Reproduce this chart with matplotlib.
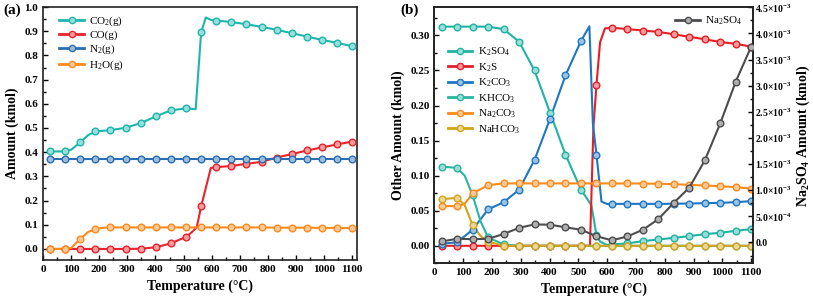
import matplotlib
matplotlib.use('Agg')
import matplotlib.pyplot as plt
from matplotlib.ticker import MultipleLocator, FixedLocator, FixedFormatter
from matplotlib.lines import Line2D
from matplotlib.colors import to_rgb

plt.rcParams['font.family'] = ['Liberation Serif', 'DejaVu Serif']
plt.rcParams['font.weight'] = 'bold'
plt.rcParams['axes.labelweight'] = 'bold'
plt.rcParams['mathtext.default'] = 'regular'

# temperatures of the plotted markers (°C)
temps = [25, 78.75, 132.5, 186.25, 240, 293.75, 347.5, 401.25, 455, 508.75, 562.5,
         616.25, 670, 723.75, 777.5, 831.25, 885, 938.75, 992.5, 1046.25, 1100]

# ---- panel (a): gas phase (kmol)
co2 = [0.403, 0.403, 0.441, 0.486, 0.491, 0.501, 0.520, 0.548, 0.573, 0.581, 0.896,
       0.944, 0.938, 0.929, 0.918, 0.906, 0.892, 0.878, 0.864, 0.852, 0.838]
co = [0.0, 0.0, 0.0, 0.0, 0.0, 0.0, 0.001, 0.007, 0.023, 0.050, 0.176,
      0.338, 0.343, 0.352, 0.360, 0.378, 0.392, 0.407, 0.420, 0.432, 0.444]
n2 = [0.372] * 21
h2o = [0.0, 0.0, 0.041, 0.082, 0.089, 0.089, 0.089, 0.089, 0.089, 0.089, 0.089,
       0.089, 0.089, 0.089, 0.089, 0.088, 0.088, 0.088, 0.087, 0.087, 0.086]
# extra points on the lines between markers (T, value)
co2_extra = [(100, 0.41), (160, 0.47), (543, 0.578), (579, 0.957), (597, 0.947)]
co_extra = [(530, 0.07), (547, 0.09), (597, 0.335)]
h2o_extra = [(100, 0.004), (160, 0.070), (210, 0.087)]

# ---- panel (b): condensed phase (kmol)
k2so4 = [0.3125, 0.3125, 0.3125, 0.3125, 0.309, 0.291, 0.250, 0.190, 0.130, 0.080, 0.015,
         0.002, 0.0034, 0.0067, 0.009, 0.0114, 0.0138, 0.0167, 0.0185, 0.0214, 0.0238]
k2s = [0.0, 0.0, 0.0, 0.0, 0.0, 0.0, 0.0, 0.0, 0.0, 0.0, 0.229,
       0.311, 0.309, 0.307, 0.305, 0.3016, 0.298, 0.2945, 0.2906, 0.288, 0.284]
k2co3 = [0.003, 0.005, 0.023, 0.052, 0.062, 0.080, 0.1225, 0.181, 0.243, 0.292, 0.130,
         0.0598, 0.0598, 0.0598, 0.0598, 0.0600, 0.0603, 0.0608, 0.0613, 0.0622, 0.0637]
khco3 = [0.113, 0.111, 0.072, 0.012, 0.002, 0.0, 0.0, 0.0, 0.0, 0.0, 0.0,
         0.0, 0.0, 0.0, 0.0, 0.0, 0.0, 0.0, 0.0, 0.0, 0.0]
na2co3 = [0.0566, 0.0566, 0.0746, 0.0865, 0.089, 0.089, 0.089, 0.089, 0.089, 0.089, 0.089,
          0.0889, 0.0889, 0.0888, 0.0885, 0.0879, 0.0869, 0.086, 0.085, 0.0836, 0.0817]
nahco3 = [0.0665, 0.0684, 0.0295, 0.006, 0.0, 0.0, 0.0, 0.0, 0.0, 0.0, 0.0,
          0.0, 0.0, 0.0, 0.0, 0.0, 0.0, 0.0, 0.0, 0.0, 0.0]
na2so4 = [0.02e-3, 0.07e-3, 0.063e-3, 0.07e-3, 0.16e-3, 0.28e-3, 0.345e-3, 0.34e-3, 0.29e-3,
          0.243e-3, 0.12e-3, 0.04e-3, 0.115e-3, 0.243e-3, 0.446e-3, 0.76e-3, 1.05e-3,
          1.57e-3, 2.28e-3, 3.08e-3, 3.75e-3]
k2so4_extra = [(545, 0.058), (575, 0.006), (600, 0.001)]
k2s_extra = [(540, 0.0), (552, 0.17), (575, 0.29), (592, 0.31)]
k2co3_extra = [(538, 0.313), (550, 0.175), (580, 0.063), (600, 0.0595)]
khco3_extra = [(105, 0.100), (160, 0.035)]
na2co3_extra = [(105, 0.060)]
nahco3_extra = [(105, 0.058), (160, 0.014)]

right_ticks = [0.0, 0.5e-3, 1.0e-3, 1.5e-3, 2.0e-3, 2.5e-3, 3.0e-3, 3.5e-3, 4.0e-3, 4.5e-3]
right_labels = ['0.0', '5.0×10$^{-4}$', '1.0×10$^{-3}$', '1.5×10$^{-3}$', '2.0×10$^{-3}$',
                '2.5×10$^{-3}$', '3.0×10$^{-3}$', '3.5×10$^{-3}$', '4.0×10$^{-3}$', '4.5×10$^{-3}$']


def light(c):
    r, g, b = to_rgb(c)
    return (r + (1 - r) * 0.55, g + (1 - g) * 0.55, b + (1 - b) * 0.55)


def draw(ax, vals, extra, color, label):
    pts = sorted(list(zip(temps, vals)) + extra)
    ax.plot([p[0] for p in pts], [p[1] for p in pts], color=color, lw=1.5, zorder=2)
    ax.plot(temps, vals, 'o', ms=4.8, mfc=light(color), mec=color, mew=1.0, zorder=3)
    return Line2D([], [], color=color, lw=2.0, marker='o', ms=4.5,
                  mfc=light(color), mec=color, label=label)


def style(ax):
    for s in ax.spines.values():
        s.set_linewidth(1.2)
        s.set_color('#222222')
    ax.tick_params(which='both', direction='in', labelsize=8, width=1.0)
    ax.tick_params(which='major', length=3.5)
    ax.tick_params(which='minor', length=2)


fig = plt.figure(figsize=(8.13, 3.02), dpi=100)

# ---------- (a)
axa = fig.add_axes([0.0529, 0.138, 0.3866, 0.8387])
h = []
h.append(draw(axa, co2, co2_extra, '#1db5ad', 'CO$_2$(g)'))
h.append(draw(axa, co, co_extra, '#e8232a', 'CO(g)'))
h.append(draw(axa, n2, [], '#2a6db0', 'N$_2$(g)'))
h.append(draw(axa, h2o, h2o_extra, '#ff8a1c', 'H$_2$O(g)'))
axa.set_xlim(0, 1118)
axa.set_ylim(-0.047, 1.0)
axa.xaxis.set_major_locator(MultipleLocator(100))
axa.xaxis.set_minor_locator(MultipleLocator(50))
axa.yaxis.set_major_locator(MultipleLocator(0.1))
axa.yaxis.set_minor_locator(MultipleLocator(0.05))
axa.yaxis.set_major_formatter(matplotlib.ticker.FormatStrFormatter('%.1f'))
style(axa)
axa.set_xlabel('Temperature (°C)', fontsize=10, labelpad=4)
axa.set_ylabel('Amount (kmol)', fontsize=10, labelpad=4)
axa.legend(handles=h, loc='upper left', bbox_to_anchor=(0.02, 1.01), frameon=False,
           prop={'weight': 'normal', 'size': 8}, handlelength=2.2, labelspacing=0.22,
           handletextpad=0.5)
fig.text(0.004, 0.955, '(a)', fontsize=11, fontweight='bold')

# ---------- (b)
axb = fig.add_axes([0.5344, 0.128, 0.3914, 0.8476])
hb = []
hb.append(draw(axb, k2so4, k2so4_extra, '#20b3a5', 'K$_2$SO$_4$'))
hb.append(draw(axb, k2s, k2s_extra, '#e61e25', 'K$_2$S'))
hb.append(draw(axb, k2co3, k2co3_extra, '#1f77c4', 'K$_2$CO$_3$'))
hb.append(draw(axb, khco3, khco3_extra, '#2ab4a2', 'KHCO$_3$'))
hb.append(draw(axb, na2co3, na2co3_extra, '#ff8a1c', 'Na$_2$CO$_3$'))
hb.append(draw(axb, nahco3, nahco3_extra, '#d4a41a', 'NaHCO$_3$'))
axb.set_xlim(0, 1105)
axb.set_ylim(-0.025, 0.34)
axb.xaxis.set_major_locator(MultipleLocator(100))
axb.xaxis.set_minor_locator(MultipleLocator(50))
axb.yaxis.set_major_locator(MultipleLocator(0.05))
axb.yaxis.set_minor_locator(MultipleLocator(0.025))
axb.yaxis.set_major_formatter(matplotlib.ticker.FormatStrFormatter('%.2f'))
style(axb)
axb.set_xlabel('Temperature (°C)', fontsize=10, labelpad=4)
axb.set_ylabel('Other Amount (kmol)', fontsize=10, labelpad=4)
axb.legend(handles=hb, loc='upper left', bbox_to_anchor=(0.01, 0.89), frameon=False,
           prop={'weight': 'normal', 'size': 8}, handlelength=2.2, labelspacing=0.27,
           handletextpad=0.5)

axr = axb.twinx()
hr = [draw(axr, na2so4, [], '#4d4d4f', 'Na$_2$SO$_4$')]
axr.set_ylim(-0.4e-3, 4.5e-3)
axr.yaxis.set_major_locator(FixedLocator(right_ticks))
axr.yaxis.set_major_formatter(FixedFormatter(right_labels))
axr.yaxis.set_minor_locator(MultipleLocator(0.25e-3))
style(axr)
axr.tick_params(axis='y', labelsize=7, pad=2)
axr.set_ylabel('Na$_2$SO$_4$ Amount (kmol)', fontsize=10, labelpad=2)
axr.legend(handles=hr, loc='upper right', bbox_to_anchor=(1.0, 1.01), frameon=False,
           prop={'weight': 'normal', 'size': 8}, handlelength=2.2, handletextpad=0.5)
fig.text(0.493, 0.955, '(b)', fontsize=11, fontweight='bold')

fig.savefig('out.png', dpi=100)
